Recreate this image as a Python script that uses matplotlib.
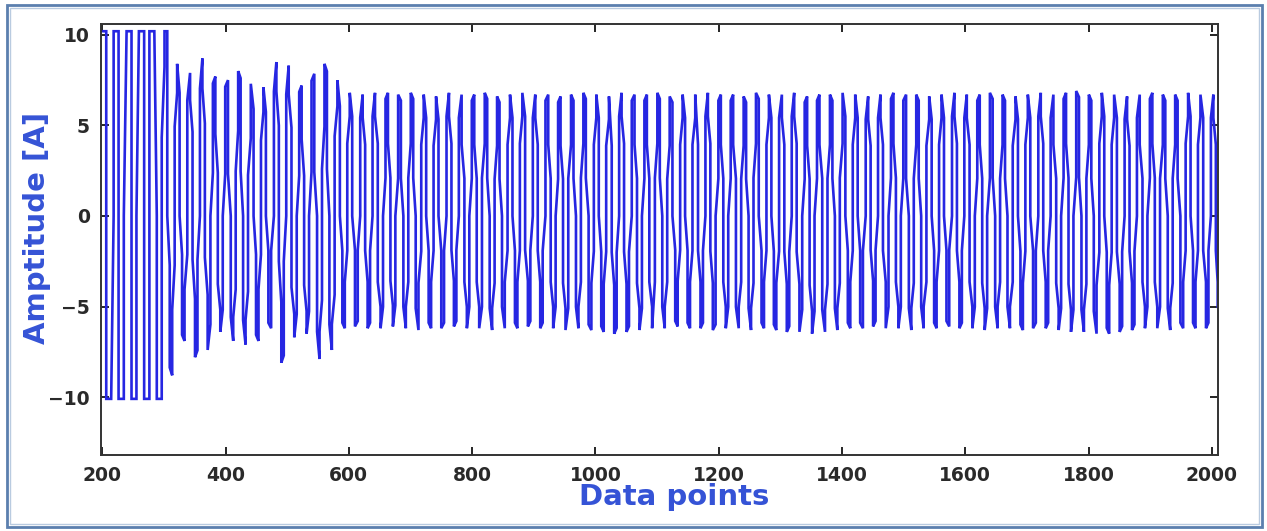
import numpy as np
import matplotlib
matplotlib.use("Agg")
import matplotlib.pyplot as plt
from matplotlib.patches import Rectangle

# ---- data ----
x_start, x_end = 200, 2010          # first / last data point
samples_per_cycle = 20               # ~12.3 px per cycle at 0.617 px per point
first_peak_x = 202                   # position of the first positive peak
clip_hi, clip_lo = 10.2, -10.1       # saturation levels (flat tops/bottoms)

# positive peak of each cycle (peaks at 202, 222, 242, ...); first ones saturated
pos_peaks = [40, 40, 40, 40, 40, 14,
             8.4, 7.9, 8.7, 7.7, 7.5, 8.0, 7.3, 7.1, 8.5, 8.3, 7.2, 7.85, 8.4, 7.5,
             6.8, 6.7, 6.8, 6.8, 6.7, 6.8, 6.7, 6.6, 6.8, 6.7,
             6.7, 6.8, 6.6, 6.7, 6.8, 6.7, 6.7, 6.6, 6.7, 6.8,
             6.7, 6.6, 6.8, 6.7, 6.7, 6.8, 6.6, 6.7, 6.7, 6.8,
             6.7, 6.7, 6.6, 6.8, 6.7, 6.7, 6.8, 6.6, 6.7, 6.7,
             6.8, 6.7, 6.6, 6.7, 6.8, 6.7, 6.7, 6.6, 6.7, 6.8,
             6.7, 6.7, 6.8, 6.7, 6.6, 6.7, 6.8, 6.7, 6.8, 6.9,
             6.7, 6.8, 6.7, 6.6, 6.7, 6.8, 6.7, 6.7, 6.8, 6.7, 6.7]

# negative trough of each cycle (troughs at 212, 232, 252, ...)
neg_troughs = [-40, -40, -40, -40, -40,
               -8.8, -6.9, -7.8, -7.4, -6.4, -6.9, -7.1, -6.9, -6.2, -8.1, -6.7, -6.5, -7.9, -7.4, -6.2,
               -6.1, -6.2, -6.2, -6.1, -6.2, -6.3, -6.2, -6.2, -6.1, -6.2,
               -6.2, -6.3, -6.2, -6.2, -6.1, -6.2, -6.2, -6.3, -6.2, -6.3,
               -6.4, -6.5, -6.4, -6.3, -6.2, -6.2, -6.1, -6.2, -6.2, -6.3,
               -6.2, -6.2, -6.3, -6.2, -6.3, -6.4, -6.4, -6.5, -6.4, -6.3,
               -6.2, -6.2, -6.1, -6.2, -6.2, -6.3, -6.2, -6.2, -6.1, -6.2,
               -6.2, -6.3, -6.2, -6.2, -6.3, -6.2, -6.2, -6.3, -6.4, -6.4,
               -6.5, -6.5, -6.4, -6.3, -6.2, -6.2, -6.3, -6.2, -6.2, -6.2, -6.2]

x_ticks = [200, 400, 600, 800, 1000, 1200, 1400, 1600, 1800, 2000]
y_ticks = [-10, -5, 0, 5, 10]
x_label = "Data points"
y_label = "Amptitude [A]"

# ---- build sampled waveform ----
n = np.arange(x_start, x_end + 1)
pos = np.asarray(pos_peaks, float)
neg = np.asarray(neg_troughs, float)
c = np.cos(2 * np.pi * (n - first_peak_x) / samples_per_cycle)
kp = np.clip(np.round((n - first_peak_x) / samples_per_cycle).astype(int), 0, len(pos) - 1)
kn = np.clip(np.round((n - first_peak_x - samples_per_cycle / 2) / samples_per_cycle).astype(int), 0, len(neg) - 1)
y = np.where(c >= 0, c * pos[kp], -c * neg[kn])
y = np.clip(y, clip_lo, clip_hi)

# min/max decimation per screen column of the original low-resolution plot
render_bin = 4.12
edges = np.arange(x_start, x_end + render_bin, render_bin)
idx = np.searchsorted(n, edges)
xd, yd = [], []
for a, b in zip(idx[:-1], idx[1:]):
    if b <= a:
        continue
    seg = y[a:b]
    xc = n[a:b].mean()
    i0, i1 = int(np.argmin(seg)), int(np.argmax(seg))
    first, second = (i0, i1) if i0 < i1 else (i1, i0)
    xd += [xc, xc]
    yd += [seg[first], seg[second]]

# ---- figure ----
W, H = 1267, 531
fig = plt.figure(figsize=(W / 100, H / 100), dpi=100)
fig.patch.set_facecolor("white")

# frame around the picture
fig.patches.append(Rectangle((7 / W, 4 / H), 1255 / W, 522 / H, transform=fig.transFigure,
                             fill=False, edgecolor="#5b7fae", linewidth=2.0))
fig.patches.append(Rectangle((10 / W, 7 / H), 1249 / W, 516 / H, transform=fig.transFigure,
                             fill=False, edgecolor="#b9cbe0", linewidth=1.0))

left, right, top, bottom = 101, 1218, 24, 455
ax = fig.add_axes([left / W, 1 - bottom / H, (right - left) / W, (bottom - top) / H])
ax.plot(xd, yd, color="#2626e2", linewidth=1.9, solid_joinstyle="miter")

ax.set_xlim(198, 2010)
ax.set_ylim(-13.2, 10.6)
ax.set_xticks(x_ticks)
ax.set_yticks(y_ticks)
ax.tick_params(direction="in", top=True, right=True, length=6, width=1.2,
               labelsize=13.5, labelcolor="#2a2a2a", pad=8)
for lab in ax.get_xticklabels() + ax.get_yticklabels():
    lab.set_fontweight("bold")
for s in ax.spines.values():
    s.set_linewidth(1.4)
    s.set_color("#333333")

label_font = dict(family=["DejaVu Sans"], fontweight="bold",
                  fontsize=21, color="#3553d6")
fig.text(674 / W, 1 - 497 / H, x_label, ha="center", va="center", **label_font)
fig.text(37 / W, 1 - 228 / H, y_label, ha="center", va="center", rotation=90, **label_font)

fig.savefig("out.png", dpi=100, facecolor="white")
